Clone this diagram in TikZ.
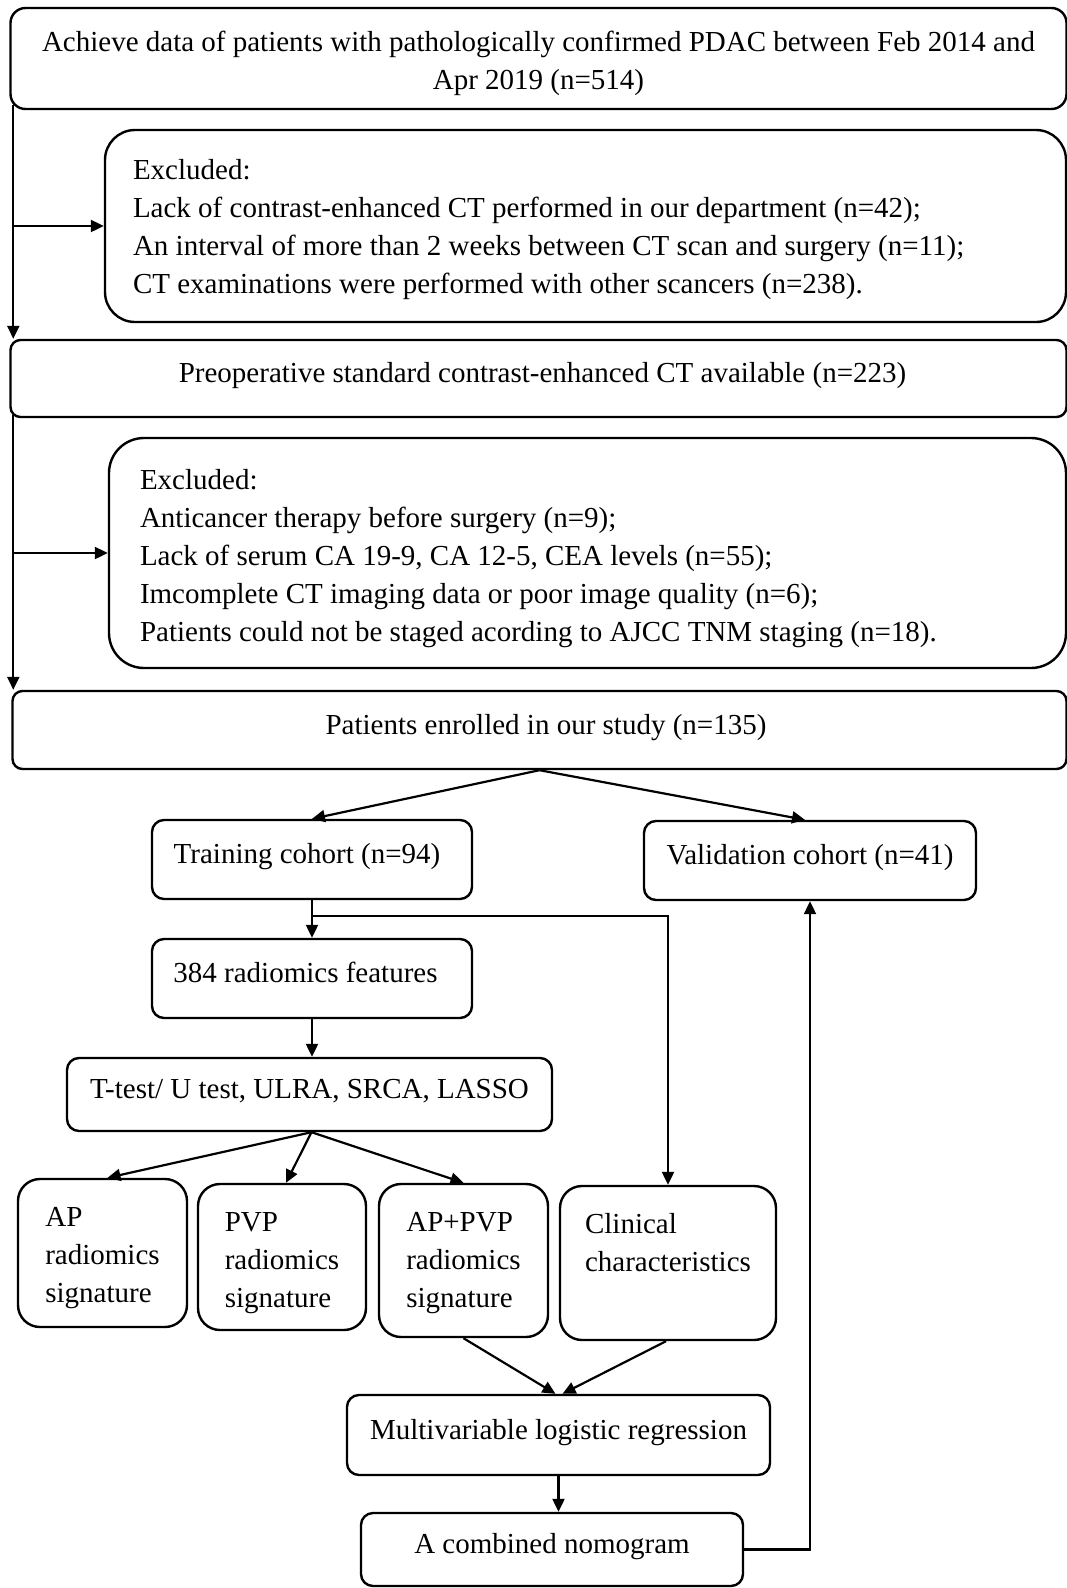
\documentclass[tikz,border=0pt]{standalone}
\usepackage{fontspec}
\setmainfont{Liberation Serif}
\usetikzlibrary{arrows.meta,calc}
\newcommand{\topgap}[1]{\rule{0pt}{#1pt}}
\begin{document}
\begin{tikzpicture}[x=1pt,y=-1pt,
  box/.style={draw, line width=2.4pt, inner sep=0pt, align=center,
    font=\fontsize{29}{38}\selectfont},
  onel/.style={text height=19pt, text depth=11pt},
  conn/.style={line width=2.2pt, -{Triangle[length=13pt,width=12pt]}}]
\useasboundingbox (0,0) rectangle (1067,1588);

\node[box, rounded corners=15pt, minimum width=1056pt, minimum height=101pt] (b1) at (538.5,58.5)
  {\topgap{30}Achieve data of patients with pathologically confirmed PDAC between Feb 2014 and\\Apr 2019 (n=514)};
\node[box, rounded corners=30pt, minimum height=192pt, inner xsep=28pt, text width=905pt, align=flush left] (b2) at (585.5,226)
  {\topgap{28}Excluded:\\Lack of contrast-enhanced CT performed in our department (n=42);\\An interval of more than 2 weeks between CT scan and surgery (n=11);\\CT examinations were performed with other scancers (n=238).};
\node[box, onel, rounded corners=10pt, minimum width=1056pt, minimum height=77pt] (b3) at (538.5,378.5)
  {\kern8pt Preoperative standard contrast-enhanced CT available (n=223)};
\node[box, rounded corners=35pt, minimum height=230pt, inner xsep=31pt, text width=895pt, align=flush left] (b4) at (587.5,553)
  {\topgap{32}Excluded:\\Anticancer therapy before surgery (n=9);\\Lack of serum CA 19-9, CA 12-5, CEA levels (n=55);\\Imcomplete CT imaging data or poor image quality (n=6);\\Patients could not be staged acording to AJCC TNM staging (n=18).};
\node[box, onel, rounded corners=10pt, minimum width=1054pt, minimum height=78pt] (b5) at (539.5,730)
  {\kern13pt Patients enrolled in our study (n=135)};

\node[box, onel, rounded corners=12pt, minimum width=320pt, minimum height=79pt] (tr) at (312,859.5)
  {Training cohort (n=94)\kern10pt};
\node[box, onel, rounded corners=12pt, minimum width=332pt, minimum height=79pt] (va) at (810,860.5)
  {Validation cohort (n=41)};
\node[box, onel, rounded corners=12pt, minimum width=320pt, minimum height=79pt] (feat) at (312,978.5)
  {384 radiomics features\kern13pt};
\node[box, onel, rounded corners=12pt, minimum width=485pt, minimum height=73pt] (tt) at (309.5,1094.5)
  {T-test/ U test, ULRA, SRCA, LASSO};

\node[box, rounded corners=22pt, minimum width=169pt, minimum height=148pt, align=left] (ap) at (102.5,1253)
  {\topgap{30}AP\\radiomics\\signature};
\node[box, rounded corners=22pt, minimum width=168pt, minimum height=146pt, align=left] (pvp) at (282,1257)
  {\topgap{31}PVP\\radiomics\\signature};
\node[box, rounded corners=22pt, minimum width=169pt, minimum height=153pt, align=left] (appvp) at (463.5,1260.5)
  {\topgap{24}AP+PVP\\radiomics\\signature};
\node[box, rounded corners=22pt, minimum width=216pt, minimum height=154pt, align=left] (clin) at (668,1263)
  {\topgap{29}Clinical\\characteristics\\\strut};

\node[box, onel, rounded corners=12pt, minimum width=423pt, minimum height=80pt] (multi) at (558.5,1435)
  {Multivariable logistic regression};
\node[box, onel, rounded corners=12pt, minimum width=382pt, minimum height=73pt] (nomo) at (552,1549.5)
  {A combined nomogram};

% left trunks
\coordinate (k1) at ($(b1.south west)+(4,-5)$);
\coordinate (k2) at ($(b3.south west)+(4,-3)$);
\draw[conn] (k1) -- (k1 |- b3.north);
\draw[conn] (k1 |- b2.west) -- (b2.west);
\draw[conn] (k2) -- (k2 |- b5.north);
\draw[conn] (k2 |- b4.west) -- (b4.west);

% split
\draw[conn] (b5.south) -- (tr.north);
\draw[conn] (b5.south) -- ($(va.north)+(-5,0)$);

% training branch
\coordinate (br) at ($(tr.south)!0.425!(feat.north)$);
\draw[conn] (tr.south) -- (feat.north);
\draw[conn] (br) -| (clin.north);
\draw[conn] (feat.south) -- (feat.south |- tt.north);

\draw[conn] ($(tt.south)+(2,0)$) -- ($(ap.north)+(5,0)$);
\draw[conn] ($(tt.south)+(2,0)$) -- ($(pvp.north)+(4,0)$);
\draw[conn] ($(tt.south)+(2,0)$) -- (appvp.north);

\draw[conn] (appvp.south) -- ($(multi.north)+(-3,0)$);
\draw[conn] ($(clin.south)+(-2,0)$) -- ($(multi.north)+(4,0)$);
\draw[conn] (multi.south) -- (multi.south |- nomo.north);
\draw[conn] (nomo.east) -| (va.south);
\end{tikzpicture}
\end{document}
